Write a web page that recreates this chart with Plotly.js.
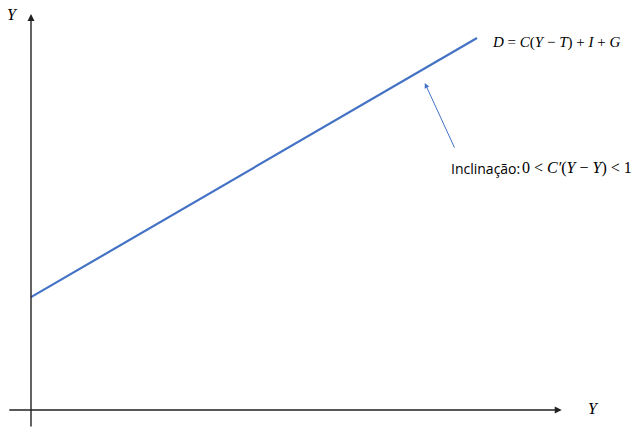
<!DOCTYPE html>
<html>
<head>
<meta charset="utf-8">
<script src="https://cdn.plot.ly/plotly-3.0.1.min.js"></script>
<style>html,body{margin:0;padding:0;background:#fff;}#chart{width:632px;height:428px;}</style>
</head>
<body>
<div id="chart"></div>
<script>
// Data
const incomeY = [0, 10];
const demandD = [2.53, 8.34];
const curveLabel = "<i>D</i> = <i>C</i>(<i>Y</i> − <i>T</i>) + <i>I</i> + <i>G</i>";
const slopeWord = "Inclinação:";
const slopeMath = "0 < <i>C′</i>(<i>Y</i> − <i>Y</i>) < 1";
const axisLabelX = "<i>Y</i>";
const axisLabelY = "<i>Y</i>";

const blue = "#4472C4";
const serif = "Liberation Serif, DejaVu Serif, serif";

const trace = {
  x: incomeY, y: demandD, type: "scatter", mode: "lines",
  line: {color: blue, width: 2.2}, hoverinfo: "skip"
};

const layout = {
  width: 632, height: 428,
  margin: {l: 0, r: 0, t: 0, b: 0},
  paper_bgcolor: "#fff", plot_bgcolor: "#fff",
  showlegend: false,
  xaxis: {range: [-0.695, 13.475], visible: false, fixedrange: true},
  yaxis: {range: [-0.404, 9.193], visible: false, fixedrange: true},
  annotations: [
    // vertical axis
    {x: 0, y: 8.88, ax: 0, ay: -0.404, xref: "x", yref: "y", axref: "x", ayref: "y",
     showarrow: true, arrowhead: 2, arrowsize: 1, arrowwidth: 1.4, arrowcolor: "#222", text: ""},
    // horizontal axis
    {x: 11.9, y: 0, ax: -0.52, ay: 0, xref: "x", yref: "y", axref: "x", ayref: "y",
     showarrow: true, arrowhead: 2, arrowsize: 1, arrowwidth: 1.4, arrowcolor: "#222", text: ""},
    // pointer arrow
    {x: 8.83, y: 7.33, ax: 9.51, ay: 5.85, xref: "x", yref: "y", axref: "x", ayref: "y",
     showarrow: true, arrowhead: 2, arrowsize: 1, arrowwidth: 1, arrowcolor: blue, text: ""},
    {x: 12, y: 14, text: axisLabelY, showarrow: false,
     font: {family: serif, size: 16, color: "#000"}},
    {x: 593, y: 408, text: axisLabelX, showarrow: false,
     font: {family: serif, size: 16, color: "#000"}},
    {x: 490, y: 42, text: curveLabel, showarrow: false, xanchor: "left",
     font: {family: serif, size: 15, color: "#000"}},
    {x: 449, y: 168, text: slopeWord, showarrow: false, xanchor: "left",
     font: {family: "Open Sans, sans-serif", size: 14, color: "#000"}},
    {x: 521, y: 168, text: slopeMath, showarrow: false, xanchor: "left", borderpad: 0,
     font: {family: serif, size: 16, color: "#000"}}
  ]
};
// convert pixel-placed text annotations into data coords
const px2x = p => -0.695 + p / 632 * 14.17;
const py2y = p => 9.193 - p / 428 * 9.597;
layout.annotations.forEach(a => {
  if (a.text !== "" ) {
    a.x = px2x(a.x); a.y = py2y(a.y); a.xref = "x"; a.yref = "y";
  }
});

Plotly.newPlot("chart", [trace], layout, {staticPlot: true, displayModeBar: false});
</script>
</body>
</html>
